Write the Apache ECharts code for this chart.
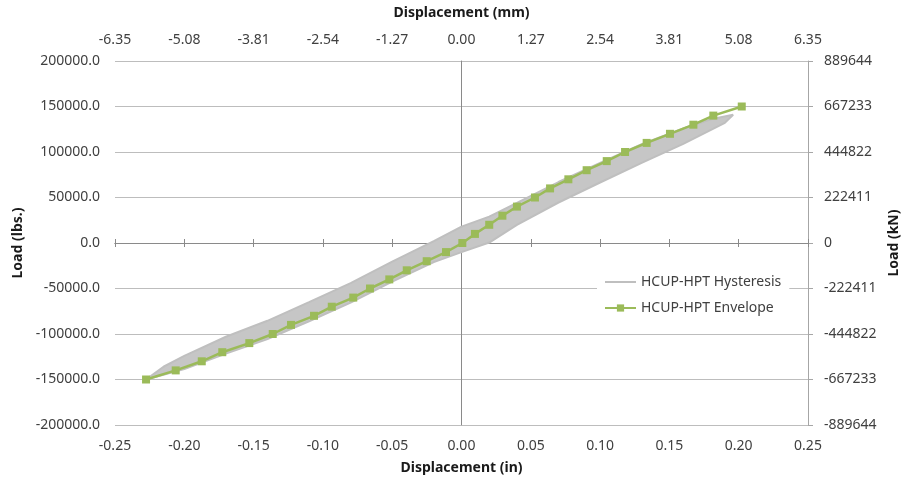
<!DOCTYPE html>
<html><head><meta charset="utf-8">
<script src="https://cdn.jsdelivr.net/npm/echarts@6/dist/echarts.min.js"></script>
<style>html,body{margin:0;padding:0;background:#fff}#c{width:907px;height:484px}</style>
</head><body><div id="c"></div>
<script>
// ---- data ----
const seriesNames = ['HCUP-HPT Hysteresis', 'HCUP-HPT Envelope'];
// Envelope (displacement in inches, load in lbs)
const envelopeX = [-0.2276, -0.2062, -0.1874, -0.1726, -0.1531, -0.1362, -0.1230, -0.1064, -0.0936, -0.0781,
  -0.0660, -0.0521, -0.0395, -0.0251, -0.0112, 0.0006, 0.0097, 0.0200, 0.0295, 0.0400,
  0.0530, 0.0639, 0.0771, 0.0903, 0.1048, 0.1180, 0.1336, 0.1504, 0.1673, 0.1817, 0.2022];
const envelopeY = [-150000, -140000, -130000, -120000, -110000, -100000, -90000, -80000, -70000, -60000,
  -50000, -40000, -30000, -20000, -10000, 0, 10000, 20000, 30000, 40000,
  50000, 60000, 70000, 80000, 90000, 100000, 110000, 120000, 130000, 140000, 150000];
// Hysteresis outer loop (loading branch then unloading branch)
const hysteresisX = [-0.2276, -0.2150, -0.2000, -0.1700, -0.1400, -0.1100, -0.0800, -0.0500, -0.0200, 0.0000,
  0.0200, 0.0400, 0.0700, 0.1000, 0.1300, 0.1600, 0.1800, 0.1960,
  0.1900, 0.1600, 0.1300, 0.1000, 0.0700, 0.0400, 0.0200, 0.0000, -0.0200, -0.0500,
  -0.0800, -0.1100, -0.1400, -0.1700, -0.2000, -0.2276];
const hysteresisY = [-150000, -136000, -124000, -103000, -85500, -65000, -44000, -20500, 2000, 18000,
  29000, 44000, 67000, 88000, 108500, 126000, 136000, 141000,
  132000, 109000, 88000, 66500, 44500, 20000, 500, -10000, -21000, -42500,
  -65500, -86000, -105500, -121500, -138500, -150000];
// Tick labels
const inTickLabels = ['-0.25', '-0.20', '-0.15', '-0.10', '-0.05', '0.00', '0.05', '0.10', '0.15', '0.20', '0.25'];
const mmTickLabels = ['-6.35', '-5.08', '-3.81', '-2.54', '-1.27', '0.00', '1.27', '2.54', '3.81', '5.08', '6.35'];
const lbsTickLabels = ['-200000.0', '-150000.0', '-100000.0', '-50000.0', '0.0', '50000.0', '100000.0', '150000.0', '200000.0'];
const kNTickLabels = ['-889644', '-667233', '-444822', '-222411', '0', '222411', '444822', '667233', '889644'];

// ---- build ----
const envData = envelopeX.map((x, i) => [x, envelopeY[i]]);
const hystData = hysteresisX.map((x, i) => [x, hysteresisY[i]]);
const FONT = 'Noto Sans';
const labelColor = '#404040';
const xIdx = v => Math.round((Number(v) + 0.25) / 0.05);
const yIdx = v => Math.round((Number(v) + 200000) / 50000);

const G = { left: 115, right: 99, top: 61, bottom: 59, w: 907, h: 484 };
const plotW = G.w - G.left - G.right, plotH = G.h - G.top - G.bottom;
const commonX = { type: 'value', min: -0.25, max: 0.25, interval: 0.05, splitLine: { show: false } };
const commonY = { type: 'value', min: -200000, max: 200000, interval: 50000 };
const nameStyle = { fontFamily: FONT, fontSize: 14, fontWeight: 'bold', color: '#1a1a1a' };
const tickStyle = { fontFamily: FONT, fontSize: 14, color: labelColor };
const zeroLineColor = '#8a8a8a';

const chart = echarts.init(document.getElementById('c'), null, { renderer: 'canvas' });
chart.setOption({
  animation: false,
  backgroundColor: '#fff',
  grid: { left: G.left, right: G.right, top: G.top, bottom: G.bottom, containLabel: false, outerBoundsMode: 'none' },
  legend: {
    data: [
      { name: seriesNames[0], itemStyle: { color: 'rgba(0,0,0,0)', borderColor: 'rgba(0,0,0,0)', borderWidth: 0, opacity: 0 } },
      { name: seriesNames[1] }
    ],
    orient: 'vertical', left: 597, top: 268,
    backgroundColor: '#fff', padding: [7, 8, 7, 7], itemWidth: 31, itemHeight: 9, itemGap: 12,
    textStyle: { fontFamily: FONT, fontSize: 14, color: labelColor }
  },
  xAxis: [
    Object.assign({}, commonX, {
      position: 'bottom', axisLine: { show: false, onZero: false }, axisTick: { show: false },
      axisLabel: Object.assign({ margin: 14, formatter: v => inTickLabels[xIdx(v)] }, tickStyle),
      name: 'Displacement (in)', nameLocation: 'middle', nameGap: 36, nameTextStyle: nameStyle
    }),
    Object.assign({}, commonX, {
      position: 'top', axisLine: { show: false, onZero: false }, axisTick: { show: false },
      axisLabel: Object.assign({ margin: 14, formatter: v => mmTickLabels[xIdx(v)] }, tickStyle),
      name: 'Displacement (mm)', nameLocation: 'middle', nameGap: 41, nameTextStyle: nameStyle
    }),
    // zero line of the horizontal axis (cross ticks: one half down, one half up)
    Object.assign({}, commonX, {
      position: 'bottom', offset: -plotH / 2,
      axisLine: { show: true, onZero: false, lineStyle: { color: zeroLineColor, width: 1 } },
      axisTick: { show: true, length: 4, lineStyle: { color: zeroLineColor } }, axisLabel: { show: false }
    }),
    Object.assign({}, commonX, {
      position: 'top', offset: -plotH / 2,
      axisLine: { show: true, onZero: false, lineStyle: { color: zeroLineColor, width: 1 } },
      axisTick: { show: true, length: 4, lineStyle: { color: zeroLineColor } }, axisLabel: { show: false }
    })
  ],
  yAxis: [
    Object.assign({}, commonY, {
      position: 'left', axisLine: { show: false, onZero: false }, axisTick: { show: false },
      splitLine: { show: true, lineStyle: { color: '#bdbdbd', width: 1 } },
      axisLabel: Object.assign({ margin: 15, formatter: v => lbsTickLabels[yIdx(v)] }, tickStyle),
      name: 'Load (lbs.)', nameLocation: 'middle', nameGap: 88, nameRotate: 90, nameTextStyle: nameStyle
    }),
    Object.assign({}, commonY, {
      position: 'right', axisLine: { show: true, onZero: false, lineStyle: { color: '#a6a6a6' } },
      axisTick: { show: true, length: 5, lineStyle: { color: '#a6a6a6' } }, splitLine: { show: false },
      axisLabel: Object.assign({ margin: 16, formatter: v => kNTickLabels[yIdx(v)] }, tickStyle),
      name: 'Load (kN)', nameLocation: 'middle', nameGap: 78, nameRotate: 90, nameTextStyle: nameStyle
    }),
    // zero line of the vertical axis
    Object.assign({}, commonY, {
      position: 'left', offset: -plotW / 2,
      axisLine: { show: true, onZero: false, lineStyle: { color: zeroLineColor } },
      axisTick: { show: false }, axisLabel: { show: false }, splitLine: { show: false }
    })
  ],
  series: [
    {
      type: 'custom', xAxisIndex: 0, yAxisIndex: 0, z: 1, silent: true, data: hystData,
      renderItem: function (params, api) {
        if (params.dataIndex !== 0) return null;
        const pts = hystData.map(p => api.coord(p));
        return { type: 'polygon', shape: { points: pts }, style: { fill: '#c6c6c6' } };
      }
    },
    {
      name: seriesNames[0], type: 'line', xAxisIndex: 0, yAxisIndex: 0, data: hystData, z: 2,
      showSymbol: false, symbol: 'none', color: '#bfbfbf', lineStyle: { color: '#bfbfbf', width: 2 }
    },
    {
      name: seriesNames[1], type: 'line', xAxisIndex: 0, yAxisIndex: 0, data: envData, z: 3,
      symbol: 'rect', symbolSize: 8, color: '#9bbb59',
      itemStyle: { color: '#9bbb59' }, lineStyle: { color: '#9bbb59', width: 2.5 }
    }
  ]
});
</script></body></html>
